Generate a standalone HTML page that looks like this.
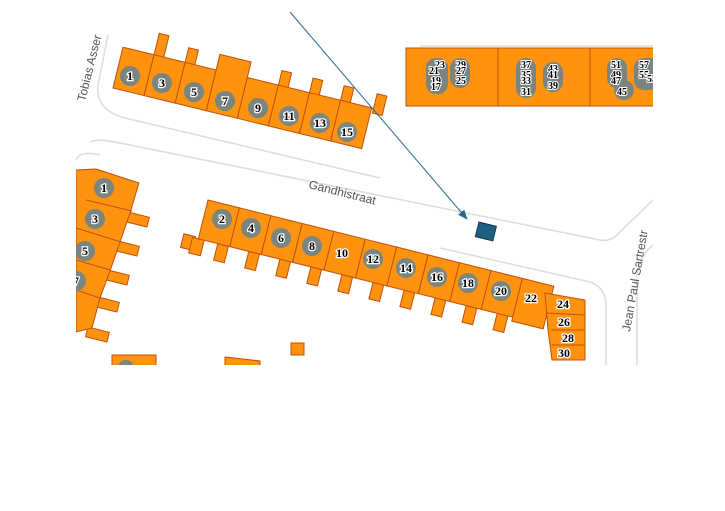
<!DOCTYPE html>
<html><head><meta charset="utf-8"><style>
html,body{margin:0;padding:0;background:#fff;}
svg{display:block;}
.h{fill:#ff920f;stroke:#c0500a;stroke-width:1;}
.c{fill:#7a8580;}
.t{font-family:"Liberation Serif",serif;font-weight:bold;font-size:12px;fill:#000;stroke:#fff;stroke-width:2.5px;paint-order:stroke;text-anchor:middle;}
.s{font-family:"Liberation Serif",serif;font-weight:bold;font-size:10px;fill:#000;stroke:#fff;stroke-width:2px;paint-order:stroke;text-anchor:middle;}
.r{fill:none;stroke:#dcdcdc;stroke-width:1.5;}
.lbl{font-family:"Liberation Sans",sans-serif;font-size:12px;fill:#555;}
</style></head><body>
<svg width="725" height="511" viewBox="0 0 725 511" xmlns="http://www.w3.org/2000/svg">
<defs>
<clipPath id="m"><rect x="76" y="0" width="577" height="365"/></clipPath>
<marker id="ah" markerWidth="10" markerHeight="8" refX="9" refY="4" orient="auto" markerUnits="userSpaceOnUse"><path d="M0,0 L10,4 L0,8 z" fill="#2a6a90"/></marker>
</defs>
<g clip-path="url(#m)">
<!-- roads -->
<path class="r" d="M108,35 L98,85 Q95,110 125,118 L380,178"/>
<path class="r" d="M90,142 Q98,138 120,143 L600,240 Q612,242 620,232 L653,200"/>
<path class="r" d="M76,160 Q80,150 100,155"/>
<path class="r" d="M440,248 L590,282 Q606,288 606,305 L606,365"/>
<path class="r" d="M637,365 L637,275 Q640,255 653,245"/>
<path class="r" d="M420,46 L653,46"/>
<text class="lbl" transform="translate(308,188) rotate(14)">Gandhistraat</text>
<text class="lbl" transform="translate(630,332) rotate(-80)">Jean Paul Sartrestr</text>
<text class="lbl" transform="translate(85,102) rotate(-76)">Tobias Asser</text>

<!-- top row -->
<g transform="translate(113,88) rotate(13.7)">
<rect class="h" x="32" y="-64" width="10" height="24"/>
<rect class="h" x="64" y="-57" width="10" height="20"/>
<rect class="h" x="96" y="-57" width="10" height="20"/>
<rect class="h" x="160" y="-57" width="10" height="20"/>
<rect class="h" x="192" y="-57" width="10" height="20"/>
<rect class="h" x="224" y="-57" width="10" height="20"/>
<rect class="h" x="258" y="-57" width="10" height="20"/>
<rect class="h" x="0" y="-42" width="32" height="42"/>
<rect class="h" x="32" y="-42" width="32" height="42"/>
<rect class="h" x="64" y="-42" width="32" height="42"/>
<rect class="h" x="96" y="-58" width="32" height="58"/>
<rect class="h" x="128" y="-42" width="32" height="42"/>
<rect class="h" x="160" y="-42" width="32" height="42"/>
<rect class="h" x="192" y="-42" width="32" height="42"/>
<rect class="h" x="224" y="-42" width="32" height="42"/>
</g>
<g>
<circle class="c" cx="130" cy="76" r="10"/><text class="t" x="130" y="80">1</text>
<circle class="c" cx="162" cy="83" r="10"/><text class="t" x="162" y="87">3</text>
<circle class="c" cx="194" cy="92" r="10"/><text class="t" x="194" y="96">5</text>
<circle class="c" cx="225" cy="101" r="10"/><text class="t" x="225" y="105">7</text>
<circle class="c" cx="258" cy="108" r="10"/><text class="t" x="258" y="112">9</text>
<circle class="c" cx="289" cy="116" r="10"/><text class="t" x="289" y="120">11</text>
<circle class="c" cx="320" cy="123" r="10"/><text class="t" x="320" y="127">13</text>
<circle class="c" cx="347" cy="132" r="10"/><text class="t" x="347" y="136">15</text>
</g>

<!-- top block -->
<rect class="h" x="406" y="48" width="260" height="58"/>
<line x1="498" y1="48" x2="498" y2="106" stroke="#c0500a"/>
<line x1="590" y1="48" x2="590" y2="106" stroke="#c0500a"/>
<g class="c">
<rect x="426" y="58" width="22" height="36" rx="10"/><rect x="450" y="58" width="20" height="30" rx="10"/>
<rect x="516" y="58" width="20" height="40" rx="10"/><rect x="543" y="62" width="20" height="30" rx="10"/>
<rect x="607" y="58" width="20" height="30" rx="10"/><rect x="614" y="80" width="20" height="20" rx="10"/><rect x="634" y="58" width="25" height="32" rx="10"/>
</g>
<text class="s" x="440" y="68">23</text><text class="s" x="434" y="74">21</text><text class="s" x="436" y="84">19</text><text class="s" x="436" y="90">17</text>
<text class="s" x="461" y="68">29</text><text class="s" x="461" y="74">27</text><text class="s" x="461" y="84">25</text>
<text class="s" x="526" y="68">37</text><text class="s" x="526" y="78">35</text><text class="s" x="526" y="84">33</text><text class="s" x="526" y="95">31</text>
<text class="s" x="553" y="72">43</text><text class="s" x="553" y="78">41</text><text class="s" x="553" y="89">39</text>
<text class="s" x="616" y="68">51</text><text class="s" x="616" y="78">49</text><text class="s" x="616" y="84">47</text><text class="s" x="622" y="95">45</text>
<text class="s" x="644" y="68">57</text><text class="s" x="644" y="78">55</text><text class="s" x="652" y="82">53</text>

<!-- middle row -->
<rect class="h" x="182" y="235" width="12" height="14" transform="rotate(14 188 242)"/>
<g transform="translate(208,200) rotate(14)">
<rect class="h" x="-6" y="40" width="12" height="16"/>
<rect class="h" x="20" y="40" width="11" height="17"/>
<rect class="h" x="52" y="40" width="11" height="17"/>
<rect class="h" x="84" y="40" width="11" height="17"/>
<rect class="h" x="116" y="40" width="11" height="17"/>
<rect class="h" x="148" y="40" width="11" height="17"/>
<rect class="h" x="180" y="40" width="11" height="17"/>
<rect class="h" x="212" y="40" width="11" height="17"/>
<rect class="h" x="244" y="40" width="11" height="17"/>
<rect class="h" x="276" y="40" width="11" height="17"/>
<rect class="h" x="308" y="40" width="11" height="17"/>
<rect class="h" x="0" y="0" width="32.4" height="40"/>
<rect class="h" x="32.4" y="0" width="32.4" height="40"/>
<rect class="h" x="64.8" y="0" width="32.4" height="40"/>
<rect class="h" x="97.2" y="0" width="32.4" height="40"/>
<rect class="h" x="129.6" y="0" width="32.4" height="40"/>
<rect class="h" x="162" y="0" width="32.4" height="40"/>
<rect class="h" x="194.4" y="0" width="32.4" height="40"/>
<rect class="h" x="226.8" y="0" width="32.4" height="40"/>
<rect class="h" x="259.2" y="0" width="32.4" height="40"/>
<rect class="h" x="291.6" y="0" width="32.4" height="40"/>
<rect class="h" x="324" y="0" width="32.4" height="44"/>
</g>
<polygon class="h" points="545,293 585,300 585,360 552,360 548,330"/>
<line x1="546" y1="313" x2="585" y2="315" stroke="#c0500a"/>
<line x1="551" y1="330" x2="585" y2="330" stroke="#c0500a"/>
<line x1="552" y1="345" x2="585" y2="345" stroke="#c0500a"/>
<g>
<circle class="c" cx="222" cy="219" r="10"/><text class="t" x="222" y="223">2</text>
<circle class="c" cx="251" cy="228" r="10"/><text class="t" x="251" y="232">4</text>
<circle class="c" cx="281" cy="238" r="10"/><text class="t" x="281" y="242">6</text>
<circle class="c" cx="312" cy="246" r="10"/><text class="t" x="312" y="250">8</text>
<text class="t" x="342" y="257">10</text>
<circle class="c" cx="373" cy="259" r="10"/><text class="t" x="373" y="263">12</text>
<circle class="c" cx="406" cy="268" r="10"/><text class="t" x="406" y="272">14</text>
<circle class="c" cx="437" cy="277" r="10"/><text class="t" x="437" y="281">16</text>
<circle class="c" cx="468" cy="283" r="10"/><text class="t" x="468" y="287">18</text>
<circle class="c" cx="501" cy="291" r="10"/><text class="t" x="501" y="295">20</text>
<text class="t" x="531" y="302">22</text>
<text class="t" x="563" y="308">24</text>
<text class="t" x="564" y="326">26</text>
<text class="t" x="568" y="342">28</text>
<text class="t" x="564" y="357">30</text>
</g>

<!-- left column -->
<rect class="h" x="128" y="212" width="22" height="10" transform="rotate(14 128 212)"/>
<rect class="h" x="118" y="241" width="22" height="10" transform="rotate(14 118 241)"/>
<rect class="h" x="108" y="270" width="22" height="10" transform="rotate(14 108 270)"/>
<rect class="h" x="98" y="297" width="22" height="10" transform="rotate(14 98 297)"/>
<rect class="h" x="88" y="327" width="22" height="10" transform="rotate(14 88 327)"/>
<polygon class="h" points="96,169 139,183 130,213 120,242 110,271 100,298 92,328 76,332 76,170"/>
<line x1="86" y1="200" x2="132" y2="211" stroke="#c0500a"/>
<line x1="76" y1="228" x2="121" y2="242" stroke="#c0500a"/>
<line x1="76" y1="260" x2="110" y2="270" stroke="#c0500a"/>
<line x1="76" y1="290" x2="100" y2="298" stroke="#c0500a"/>
<circle class="c" cx="104" cy="188" r="10"/><text class="t" x="104" y="192">1</text>
<circle class="c" cx="95" cy="219" r="10"/><text class="t" x="95" y="223">3</text>
<circle class="c" cx="85" cy="251" r="10"/><text class="t" x="85" y="255">5</text>
<circle class="c" cx="76" cy="281" r="10"/><text class="t" x="76" y="285">7</text>

<!-- bottom pieces -->
<rect class="h" x="112" y="355" width="44" height="14"/>
<circle class="c" cx="126" cy="368" r="8"/>
<polygon class="h" points="225,357 260,361 260,370 225,370"/>
<rect class="h" x="291" y="343" width="13" height="12"/>

<!-- marker -->
<rect x="477" y="224" width="18" height="15" fill="#1f5f80" stroke="#10384f" transform="rotate(14 486 231)"/>
</g>
<line x1="290" y1="12" x2="467" y2="219" stroke="#2a6a90" stroke-width="1" marker-end="url(#ah)"/>
</svg>
</body></html>
